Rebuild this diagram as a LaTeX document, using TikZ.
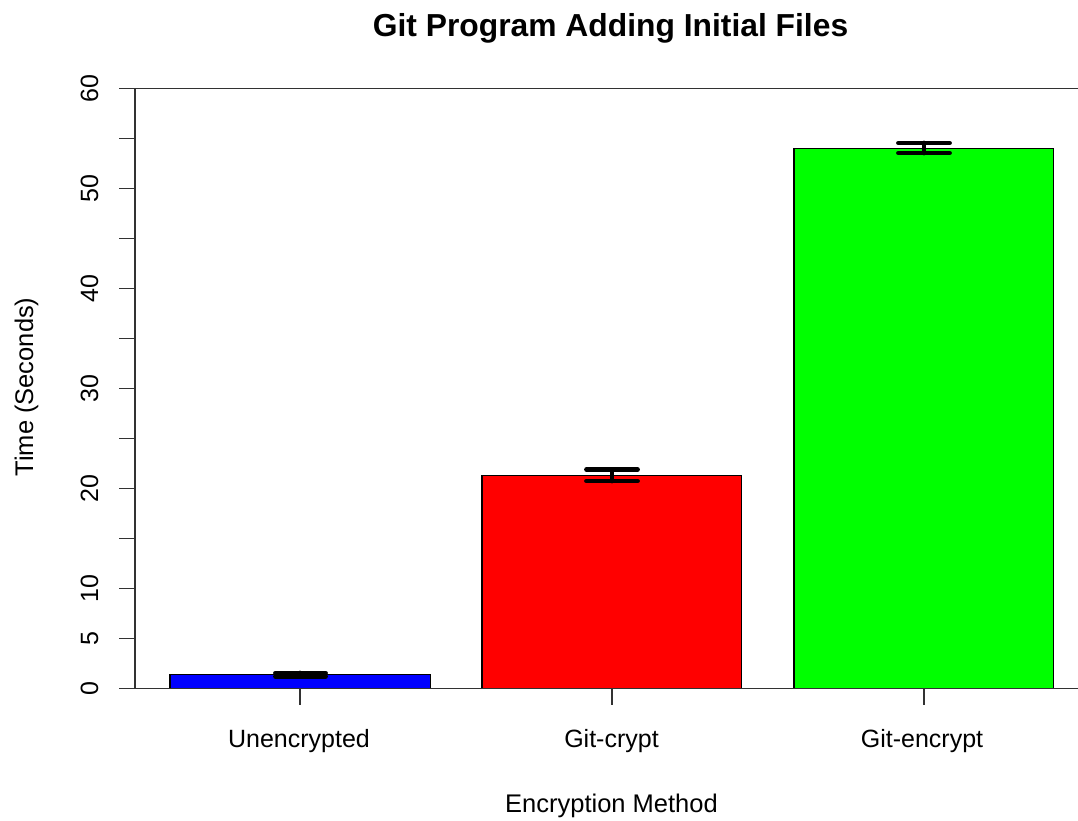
\documentclass[tikz,border=0pt]{standalone}
\usepackage{fontspec}
\setmainfont{Liberation Sans}
\definecolor{barblue}{RGB}{0,0,255}
\definecolor{barred}{RGB}{255,0,0}
\definecolor{bargreen}{RGB}{0,255,0}
\definecolor{axisgray}{RGB}{50,50,50}
\begin{document}
\begin{tikzpicture}[x=1pt,y=-1pt,
  axisline/.style={draw=axisgray, line width=1.9pt},
  barbox/.style={draw=black, line width=1.5pt},
  errbar/.style={draw=black, line width=4.8pt, line cap=round},
  ticklab/.style={font=\fontsize{25}{30}\selectfont, anchor=base, inner sep=0pt},
  axtitle/.style={font=\fontsize{25.5}{30}\selectfont, anchor=base, inner sep=0pt}]
\useasboundingbox (0,0) rectangle (1078,820);
\fill[white] (0,0) rectangle (1078,820);
% bars
\draw[barbox, fill=barblue] (170,688.5) rectangle (430.5,674.3);
\draw[barbox, fill=barred] (482,688.5) rectangle (741.5,475.3);
\draw[barbox, fill=bargreen] (794,688.5) rectangle (1053.5,148.3);
% axes / box
\draw[axisline] (1078,88.5) -- (135,88.5) -- (135,688.5);
\draw[axisline] (119,688.5) -- (1078,688.5);
\foreach \v in {0,5,...,60} \draw[axisline] (119,{688.5-10*\v}) -- (135,{688.5-10*\v});
\foreach \v in {0,5,10,20,30,40,50,60}
  \node[ticklab, rotate=90] (y\v) at (98,{688.5-10*\v}) {\v};
% x ticks
\foreach \x in {300,612,924} \draw[axisline] (\x,688.5) -- (\x,705);
% error bars
\draw[errbar] (275.5,673) -- (325.5,673);
\draw[errbar] (275.5,676.5) -- (325.5,676.5);
\draw[errbar] (300,673) -- (300,676.5);
\draw[errbar] (586.5,469.5) -- (637.5,469.5);
\draw[errbar] (586.5,481) -- (637.5,481);
\draw[errbar] (612,469.5) -- (612,481);
\draw[errbar] (898.5,143) -- (949.5,143);
\draw[errbar] (898.5,153) -- (949.5,153);
\draw[errbar] (924,143) -- (924,153);
% labels
\node[ticklab] (l1) at (299,747) {Unencrypted};
\node[ticklab] (l2) at (611.5,747) {Git-crypt};
\node[ticklab] (l3) at (922,747) {Git-encrypt};
\node[axtitle] (xt) at (611.5,812) {Encryption Method};
\node[axtitle, rotate=90] (yt) at (33,387) {Time (Seconds)};
\node[font=\bfseries\fontsize{31.8}{36}\selectfont, anchor=base, inner sep=0pt] (title) at (610.5,36.5) {Git Program Adding Initial Files};
\end{tikzpicture}
\end{document}
